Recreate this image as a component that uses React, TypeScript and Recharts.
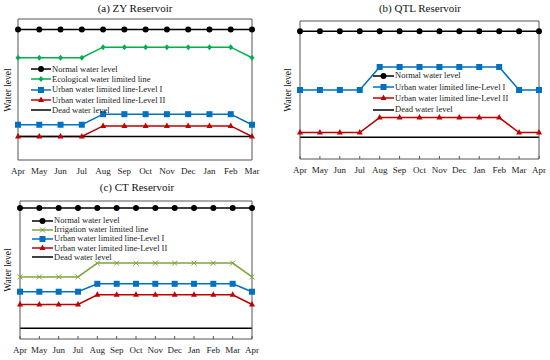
import { LineChart, Line, XAxis, YAxis, Legend } from "recharts";

const FONT = '"Liberation Serif", "Times New Roman", serif';
const AXIS = "#555";

// months per panel
const monthsA = ["Apr", "May", "Jun", "Jul", "Aug", "Sep", "Oct", "Nov", "Dec", "Jan", "Feb", "Mar"];
const monthsB = [...monthsA, "Apr"];
const monthsC = [...monthsA, "Apr"];

// (a) ZY Reservoir, y domain 0-6
const normalA = [5.55, 5.55, 5.55, 5.55, 5.55, 5.55, 5.55, 5.55, 5.55, 5.55, 5.55, 5.55];
const ecoA = [4.35, 4.35, 4.35, 4.35, 4.8, 4.8, 4.8, 4.8, 4.8, 4.8, 4.8, 4.35];
const urban1A = [1.5, 1.5, 1.5, 1.5, 1.95, 1.95, 1.95, 1.95, 1.95, 1.95, 1.95, 1.5];
const urban2A = [1.0, 1.0, 1.0, 1.0, 1.45, 1.45, 1.45, 1.45, 1.45, 1.45, 1.45, 1.0];
const deadA = [1.0, 1.0, 1.0, 1.0, 1.0, 1.0, 1.0, 1.0, 1.0, 1.0, 1.0, 1.0];

// (b) QTL Reservoir, y domain 0-6
const normalB = [5.55, 5.55, 5.55, 5.55, 5.55, 5.55, 5.55, 5.55, 5.55, 5.55, 5.55, 5.55, 5.55];
const urban1B = [3, 3, 3, 3, 4, 4, 4, 4, 4, 4, 4, 3, 3];
const urban2B = [1.15, 1.15, 1.15, 1.15, 1.8, 1.8, 1.8, 1.8, 1.8, 1.8, 1.8, 1.15, 1.15];
const deadB = [0.95, 0.95, 0.95, 0.95, 0.95, 0.95, 0.95, 0.95, 0.95, 0.95, 0.95, 0.95, 0.95];

// (c) CT Reservoir, y domain 0-4
const normalC = [3.8, 3.8, 3.8, 3.8, 3.8, 3.8, 3.8, 3.8, 3.8, 3.8, 3.8, 3.8, 3.8];
const irrC = [1.8, 1.8, 1.8, 1.8, 2.2, 2.2, 2.2, 2.2, 2.2, 2.2, 2.2, 2.2, 1.8];
const urban1C = [1.37, 1.37, 1.37, 1.37, 1.6, 1.6, 1.6, 1.6, 1.6, 1.6, 1.6, 1.6, 1.37];
const urban2C = [1.0, 1.0, 1.0, 1.0, 1.28, 1.28, 1.28, 1.28, 1.28, 1.28, 1.28, 1.28, 1.0];
const deadC = [0.31, 0.31, 0.31, 0.31, 0.31, 0.31, 0.31, 0.31, 0.31, 0.31, 0.31, 0.31, 0.31];

type Marker = "circle" | "diamond" | "square" | "triangle" | "cross" | "none";

interface Series {
  key: string;
  name: string;
  color: string;
  marker: Marker;
  values: number[];
}

function drawMarker(marker: Marker, cx: number, cy: number, color: string, key?: string) {
  switch (marker) {
    case "circle":
      return <circle key={key} cx={cx} cy={cy} r={3} fill={color} />;
    case "diamond":
      return (
        <polygon
          key={key}
          points={`${cx},${cy - 3} ${cx + 2.5},${cy} ${cx},${cy + 3} ${cx - 2.5},${cy}`}
          fill={color}
        />
      );
    case "square":
      return <rect key={key} x={cx - 3} y={cy - 3} width={6} height={6} fill={color} />;
    case "triangle":
      return (
        <polygon
          key={key}
          points={`${cx},${cy - 3.5} ${cx + 3},${cy + 2} ${cx - 3},${cy + 2}`}
          fill={color}
        />
      );
    case "cross":
      return (
        <g key={key} stroke={color} strokeWidth={1}>
          <line x1={cx - 2.5} y1={cy - 2.5} x2={cx + 2.5} y2={cy + 2.5} />
          <line x1={cx - 2.5} y1={cy + 2.5} x2={cx + 2.5} y2={cy - 2.5} />
        </g>
      );
    default:
      return <g key={key} />;
  }
}

function makeTick(withLine: boolean) {
  return (props: any) => {
    const { x, y, payload } = props;
    return (
      <g>
        {withLine && <line x1={x} x2={x} y1={y} y2={y - 3} stroke={AXIS} />}
        <text x={x} y={y + 14} textAnchor="middle" fontSize={9} fontFamily={FONT} fill="#222">
          {payload.value}
        </text>
      </g>
    );
  };
}

interface PanelProps {
  left: number;
  top: number;
  months: string[];
  series: Series[];
  yMax: number;
  // plot box inside the 275x180 chart
  box: { x0: number; x1: number; y0: number; y1: number };
  ticks: boolean;
  legend: { left: number; top: number; row: number; sample: number };
}

function Panel({ left, top, months, series, yMax, box, ticks, legend }: PanelProps) {
  const data = months.map((m, i) => {
    const row: Record<string, string | number> = { m };
    series.forEach((s) => {
      row[s.key] = s.values[i];
    });
    return row;
  });
  const yTicks = Array.from({ length: yMax + 1 }, (_, i) => i);
  // every axis is 1px thick, so take that out of the margins
  const margin = {
    top: box.y0 - 1,
    left: box.x0 - 1,
    right: 275 - box.x1 - 1,
    bottom: 180 - box.y1 - 1,
  };

  const legendContent = () => (
    <div style={{ fontFamily: FONT, fontSize: 8.5, color: "#222" }}>
      {series.map((s) => (
        <div key={s.key} style={{ display: "flex", alignItems: "center", height: legend.row }}>
          <svg width={legend.sample} height={8} style={{ display: "block" }}>
            <line x1={0} x2={legend.sample} y1={4} y2={4} stroke={s.color} strokeWidth={1.5} />
            {drawMarker(s.marker, legend.sample / 2, 4, s.color)}
          </svg>
          <span style={{ marginLeft: 1, whiteSpace: "nowrap", lineHeight: 1 }}>{s.name}</span>
        </div>
      ))}
    </div>
  );

  return (
    <div style={{ position: "absolute", left, top }}>
      <LineChart width={275} height={180} data={data} margin={margin}>
        <XAxis
          dataKey="m"
          height={1}
          interval={0}
          padding={{ left: 0, right: 0 }}
          axisLine={{ stroke: AXIS }}
          tickLine={false}
          tickSize={0}
          tickMargin={0}
          tick={makeTick(ticks)}
        />
        <XAxis
          xAxisId="top"
          dataKey="m"
          orientation="top"
          height={1}
          padding={{ left: 0, right: 0 }}
          tick={false}
          tickLine={false}
          axisLine={{ stroke: AXIS }}
        />
        <YAxis
          type="number"
          domain={[0, yMax]}
          ticks={yTicks}
          width={1}
          tick={false}
          mirror
          tickSize={3}
          tickLine={ticks ? { stroke: AXIS } : false}
          axisLine={{ stroke: AXIS }}
        />
        <YAxis
          yAxisId="right"
          orientation="right"
          type="number"
          domain={[0, yMax]}
          width={1}
          tick={false}
          tickLine={false}
          axisLine={{ stroke: AXIS }}
        />
        <Legend
          layout="vertical"
          align="center"
          verticalAlign="middle"
          content={legendContent}
          wrapperStyle={{ left: legend.left, top: legend.top, width: 200, height: "auto" }}
        />
        {series.map((s) => (
          <Line
            key={s.key}
            dataKey={s.key}
            name={s.name}
            stroke={s.color}
            strokeWidth={1.5}
            isAnimationActive={false}
            dot={(p: any) => drawMarker(s.marker, p.cx, p.cy, s.color, `${s.key}-${p.index}`)}
            activeDot={false}
          />
        ))}
      </LineChart>
    </div>
  );
}

const BLACK = "#000";
const GREEN = "#00B050";
const BLUE = "#0070C0";
const RED = "#C00000";
const OLIVE = "#7FA43C";

const seriesA: Series[] = [
  { key: "normal", name: "Normal water level", color: BLACK, marker: "circle", values: normalA },
  { key: "eco", name: "Ecological water limited line", color: GREEN, marker: "diamond", values: ecoA },
  { key: "u1", name: "Urban water limited line-Level I", color: BLUE, marker: "square", values: urban1A },
  { key: "u2", name: "Urban water limited line-Level II", color: RED, marker: "triangle", values: urban2A },
  { key: "dead", name: "Dead water level", color: BLACK, marker: "none", values: deadA },
];

const seriesB: Series[] = [
  { key: "normal", name: "Normal water level", color: BLACK, marker: "circle", values: normalB },
  { key: "u1", name: "Urban water limited line-Level I", color: BLUE, marker: "square", values: urban1B },
  { key: "u2", name: "Urban water limited line-Level II", color: RED, marker: "triangle", values: urban2B },
  { key: "dead", name: "Dead water level", color: BLACK, marker: "none", values: deadB },
];

const seriesC: Series[] = [
  { key: "normal", name: "Normal water level", color: BLACK, marker: "circle", values: normalC },
  { key: "irr", name: "Irrigation water limited line", color: OLIVE, marker: "cross", values: irrC },
  { key: "u1", name: "Urban water limited line-Level I", color: BLUE, marker: "square", values: urban1C },
  { key: "u2", name: "Urban water limited line-Level II", color: RED, marker: "triangle", values: urban2C },
  { key: "dead", name: "Dead water level", color: BLACK, marker: "none", values: deadC },
];

function Title({ x, y, text }: { x: number; y: number; text: string }) {
  return (
    <div
      style={{
        position: "absolute",
        left: x,
        top: y,
        transform: "translate(-50%, -50%)",
        fontSize: 11,
        whiteSpace: "nowrap",
        color: "#111",
      }}
    >
      {text}
    </div>
  );
}

function YLabel({ x, y }: { x: number; y: number }) {
  return (
    <div
      style={{
        position: "absolute",
        left: x,
        top: y,
        transform: "translate(-50%, -50%) rotate(-90deg)",
        fontSize: 9.5,
        whiteSpace: "nowrap",
        color: "#111",
      }}
    >
      Water level
    </div>
  );
}

export default function App() {
  return (
    <div
      style={{
        position: "absolute",
        left: 0,
        top: 0,
        width: 550,
        height: 360,
        background: "#fff",
        fontFamily: FONT,
        overflow: "hidden",
      }}
    >
      <Panel
        left={0}
        top={0}
        months={monthsA}
        series={seriesA}
        yMax={6}
        box={{ x0: 19, x1: 252, y0: 19, y1: 160 }}
        ticks={false}
        legend={{ left: 31, top: 64, row: 10.3, sample: 20 }}
      />
      <Panel
        left={275}
        top={0}
        months={monthsB}
        series={seriesB}
        yMax={6}
        box={{ x0: 26, x1: 264, y0: 21, y1: 159 }}
        ticks={true}
        legend={{ left: 98, top: 70, row: 11.3, sample: 21 }}
      />
      <Panel
        left={0}
        top={180}
        months={monthsC}
        series={seriesC}
        yMax={4}
        box={{ x0: 21, x1: 252, y0: 21, y1: 159 }}
        ticks={true}
        legend={{ left: 32, top: 36, row: 9.1, sample: 21 }}
      />
      <Title x={135} y={8} text="(a) ZY Reservoir" />
      <Title x={420} y={8} text="(b) QTL Reservoir" />
      <Title x={137} y={187} text="(c) CT Reservoir" />
      <YLabel x={8} y={90} />
      <YLabel x={288} y={90} />
      <YLabel x={8} y={270} />
    </div>
  );
}
